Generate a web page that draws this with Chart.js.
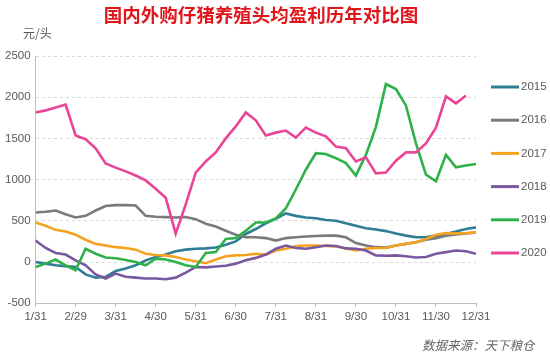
<!DOCTYPE html>
<html>
<head>
<meta charset="utf-8">
<script src="https://cdn.jsdelivr.net/npm/chart.js@4.4.0/dist/chart.umd.min.js"></script>
<style>
html, body { margin: 0; padding: 0; background: #fff; }
#wrap { width: 550px; height: 359px; }
</style>
</head>
<body>
<div id="wrap"><canvas id="myChart"></canvas></div>
<script>
// month tick labels, data sampled every quarter month
var months = ['1/31', '2/29', '3/31', '4/30', '5/31', '6/30', '7/31', '8/31', '9/30', '10/31', '11/30', '12/31'];
var years = ['2015', '2016', '2017', '2018', '2019', '2020'];
var colors = ['#2F7E95', '#7A7A7A', '#F5A31F', '#7A58A0', '#2DB24A', '#E94496'];

var y2015 = [0, -20, -40, -50, -60, -150, -190, -180, -110, -80, -40, 20, 60, 90, 130, 150, 160, 165, 175, 210, 250, 340,
    400, 470, 525, 590, 560, 540, 530, 510, 500, 470, 440, 410, 395, 375, 345, 320, 300, 300, 320, 340, 370, 400, 420];
var y2016 = [600, 610, 625, 580, 540, 560, 625, 680, 690, 690, 685, 560, 550, 545, 540, 545, 520, 465, 430, 380, 330, 300,
    300, 290, 260, 290, 300, 310, 315, 320, 320, 300, 230, 200, 180, 175, 200, 220, 240, 270, 290, 320, 335, 345, 360];
var y2017 = [480, 440, 390, 370, 330, 270, 220, 200, 180, 170, 150, 100, 85, 80, 60, 30, 10, -15, 30, 70, 80, 85,
    100, 90, 140, 160, 190, 200, 200, 195, 190, 165, 140, 160, 170, 170, 200, 220, 240, 280, 330, 350, 345, 350, 360];
var y2018 = [260, 170, 110, 90, 20, -40, -150, -200, -140, -180, -190, -200, -200, -210, -190, -130, -60, -65, -55, -45, -20, 20,
    50, 90, 160, 200, 170, 160, 180, 200, 195, 165, 160, 140, 80, 75, 80, 70, 55, 60, 100, 120, 140, 130, 100];
var y2019 = [-60, -20, 30, -40, -100, 160, 100, 55, 45, 25, 0, -40, 40, 30, 0, -40, -60, 110, 120, 280, 290, 380,
    480, 480, 530, 650, 880, 1120, 1320, 1310, 1260, 1200, 1050, 1300, 1640, 2160, 2100, 1900, 1440, 1060, 980, 1300, 1150, 1170, 1190];
var y2020 = [1815, 1840, 1875, 1910, 1535, 1490, 1380, 1195, 1145, 1100, 1050, 990, 890, 780, 345, 700, 1085, 1220, 1330, 1500, 1645, 1815,
    1720, 1535, 1570, 1595, 1510, 1630, 1570, 1525, 1400, 1380, 1220, 1270, 1075, 1085, 1230, 1330, 1330, 1440, 1630, 2010, 1925, 2020];

var series = [y2015, y2016, y2017, y2018, y2019, y2020];
var stepsPerMonth = 4;

var datasets = series.map(function (vals, k) {
    return {
        label: years[k],
        data: vals.map(function (v, i) { return { x: i / stepsPerMonth, y: v }; }),
        borderColor: colors[k],
        backgroundColor: colors[k],
        borderWidth: 2.6,
        pointRadius: 0,
        tension: 0,
        order: series.length - k
    };
});

var textColor = '#595959';

var decor = {
    id: 'decor',
    afterDraw: function (chart) {
        var ctx = chart.ctx;
        ctx.save();
        // title
        ctx.fillStyle = '#E0161B';
        ctx.font = 'bold 18.5px "Noto Sans CJK SC"';
        ctx.textAlign = 'center';
        ctx.textBaseline = 'middle';
        ctx.fillText('国内外购仔猪养殖头均盈利历年对比图', 261, 15);
        // unit
        ctx.fillStyle = textColor;
        ctx.font = '12px "Noto Sans CJK SC"';
        ctx.textAlign = 'left';
        ctx.fillText('元/头', 23, 33);
        // legend
        ctx.font = '11.5px "Liberation Sans"';
        chart.data.datasets.forEach(function (ds, k) {
            var y = 87 + k * 33.2;
            ctx.strokeStyle = ds.borderColor;
            ctx.lineWidth = 3;
            ctx.beginPath();
            ctx.moveTo(491, y);
            ctx.lineTo(519, y);
            ctx.stroke();
            ctx.fillStyle = textColor;
            ctx.fillText(ds.label, 521, y);
        });
        // source
        ctx.font = 'italic 12.5px "Noto Sans CJK SC"';
        ctx.fillStyle = '#666';
        ctx.fillText('数据来源：天下粮仓', 422, 345);
        ctx.restore();
    }
};

var ctx = document.getElementById('myChart').getContext('2d');
var myChart = new Chart(ctx, {
    type: 'line',
    data: { datasets: datasets },
    options: {
        responsive: true,
        maintainAspectRatio: false,
        animation: false,
        layout: { padding: { top: 56, left: 0, right: 74, bottom: 32 } },
        plugins: {
            legend: { display: false },
            tooltip: { enabled: false }
        },
        scales: {
            x: {
                type: 'linear',
                min: 0,
                max: months.length - 1,
                ticks: {
                    stepSize: 1,
                    color: textColor,
                    font: { size: 11.5, family: 'Liberation Sans' },
                    maxRotation: 0,
                    padding: 3,
                    callback: function (v) { return months[v]; }
                },
                grid: { display: true, drawOnChartArea: false, drawTicks: true, tickLength: 4, color: '#BFBFBF' },
                border: { display: true, color: '#BFBFBF', width: 1 }
            },
            y: {
                min: -500,
                max: 2500,
                ticks: {
                    stepSize: 500,
                    color: textColor,
                    font: { size: 11.5, family: 'Liberation Sans' },
                    padding: 5,
                    callback: function (v) { return String(v); }
                },
                grid: { color: '#D9D9D9', drawTicks: false, lineWidth: 1 },
                border: { display: true, color: '#BFBFBF', width: 1, dash: [3, 3] }
            }
        }
    },
    plugins: [decor]
});
</script>
</body>
</html>
